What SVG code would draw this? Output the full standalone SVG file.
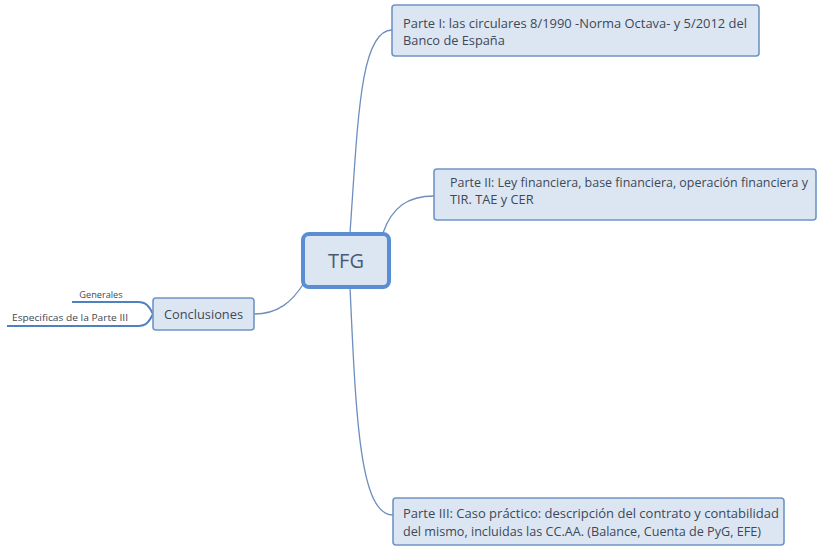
<svg xmlns="http://www.w3.org/2000/svg" width="819" height="547" viewBox="0 0 819 547">
<style>
.box{fill:#dce6f3;stroke:#7094c6;stroke-width:1.6}
.root{fill:#dce6f3;stroke:#5b8dd3;stroke-width:4}
.t{font-family:"Open Sans","Noto Sans",sans-serif;font-size:12.8px;fill:#3e4857}
.small{font-family:"Open Sans","Noto Sans",sans-serif;font-size:9.2px;fill:#3e4857}
.conn{fill:none;stroke:#6d8ebf;stroke-width:1.3}
.leaf{fill:none;stroke:#4f80c2;stroke-width:2}
</style>
<rect width="819" height="547" fill="#ffffff"/>
<g id="connectors">
<path class="conn" d="M350,233 C358,120 360,30 392,30"/>
<path class="conn" d="M383,233 C392,207 408,196 434,196"/>
<path class="conn" d="M350,287 C356,420 360,515 393,515"/>
<path class="conn" d="M304,283 C292,302 278,314 254,314"/>
<path class="leaf" d="M153,314 C149,306 146,302 138,302 L72,302"/>
<path class="leaf" d="M153,314 C149,322 146,326 138,326 L7,326"/>
</g>
<g id="tfg">
<rect class="root" x="303" y="234" width="86" height="53" rx="6"/>
<text x="346" y="268" text-anchor="middle" font-family="Open Sans, Noto Sans, sans-serif" font-size="20" fill="#4a5a72">TFG</text>
</g>
<g id="parte1">
<rect class="box" x="392" y="5" width="367" height="51" rx="3"/>
<text class="t" x="403" y="28" textLength="344" lengthAdjust="spacingAndGlyphs">Parte I: las circulares 8/1990 -Norma Octava- y 5/2012 del</text>
<text class="t" x="403" y="45">Banco de España</text>
</g>
<g id="parte2">
<rect class="box" x="434" y="169" width="382" height="51" rx="3"/>
<text class="t" x="450" y="187" textLength="358" lengthAdjust="spacingAndGlyphs">Parte II: Ley financiera, base financiera, operación financiera y</text>
<text class="t" x="450" y="204">TIR. TAE y CER</text>
</g>
<g id="parte3">
<rect class="box" x="393" y="498" width="391" height="47" rx="3"/>
<text class="t" x="403" y="518" textLength="376" lengthAdjust="spacingAndGlyphs">Parte III: Caso práctico: descripción del contrato y contabilidad</text>
<text class="t" x="403" y="536" textLength="358" lengthAdjust="spacingAndGlyphs">del mismo, incluidas las CC.AA. (Balance, Cuenta de PyG, EFE)</text>
</g>
<g id="conclusiones">
<rect class="box" x="153" y="298" width="101" height="32" rx="3"/>
<text class="t" x="203.5" y="318.5" text-anchor="middle" font-size="13">Conclusiones</text>
</g>
<g id="generales">
<text class="small" x="101" y="298" text-anchor="middle">Generales</text>
</g>
<g id="especificas">
<text class="small" x="12" y="321" textLength="116" lengthAdjust="spacingAndGlyphs">Especificas de la Parte III</text>
</g>
</svg>
